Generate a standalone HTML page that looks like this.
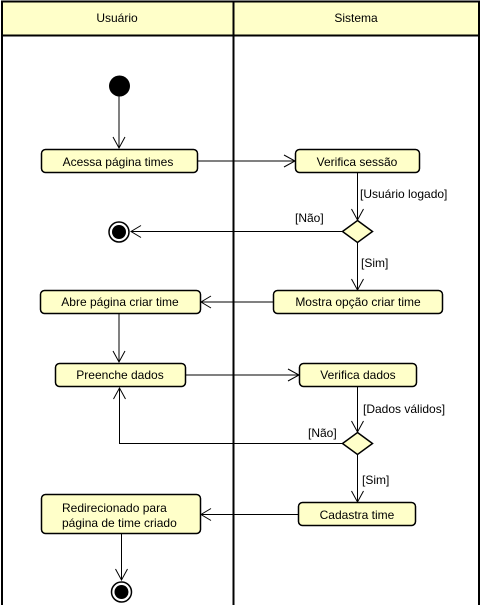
<!DOCTYPE html>
<html><head><meta charset="utf-8"><style>
html,body{margin:0;padding:0;background:#fff;}
svg{display:block;}
text{font-family:"Liberation Sans",sans-serif;font-size:12px;fill:#000;}
</style></head><body>
<svg width="481" height="605" viewBox="0 0 481 605" xmlns="http://www.w3.org/2000/svg">
<rect x="0" y="0" width="481" height="605" fill="#fff"/>
<rect x="2" y="1.5" width="477" height="34" fill="#ffffc9" stroke="#000" stroke-width="2"/>
<line x1="2" y1="35" x2="2" y2="605" stroke="#000" stroke-width="2"/>
<line x1="479" y1="35" x2="479" y2="605" stroke="#000" stroke-width="2"/>
<line x1="233.5" y1="1" x2="233.5" y2="605" stroke="#000" stroke-width="2"/>
<text x="117" y="22" text-anchor="middle">Usuário</text>
<text x="356" y="22" text-anchor="middle">Sistema</text>
<g fill="none" stroke="#000" stroke-width="1">
<line x1="119" y1="96" x2="119" y2="148"/><polyline points="113,137 119,148 125,137"/>
<line x1="198" y1="161" x2="295" y2="161"/><polyline points="284,155 295,161 284,167"/>
<line x1="357.5" y1="173" x2="357.5" y2="220"/><polyline points="351.5,209 357.5,220 363.5,209"/>
<line x1="342" y1="231.5" x2="131" y2="231.5"/><polyline points="141,225.5 131,231.5 141,237.5"/>
<line x1="357.5" y1="243" x2="357.5" y2="290"/><polyline points="351.5,279 357.5,290 363.5,279"/>
<line x1="273" y1="302" x2="201" y2="302"/><polyline points="211,296 201,302 211,308"/>
<line x1="119" y1="314" x2="119" y2="362"/><polyline points="113,351 119,362 125,351"/>
<line x1="186" y1="375" x2="299" y2="375"/><polyline points="288,369 299,375 288,381"/>
<line x1="357.5" y1="387" x2="357.5" y2="432"/><polyline points="351.5,421 357.5,432 363.5,421"/>
<polyline points="342,443.5 119.5,443.5 119.5,388"/><polyline points="113.5,399 119.5,388 125.5,399"/>
<line x1="357.5" y1="454" x2="357.5" y2="502"/><polyline points="351.5,491 357.5,502 363.5,491"/>
<line x1="298" y1="514.5" x2="201" y2="514.5"/><polyline points="211,508.5 201,514.5 211,520.5"/>
<line x1="121.5" y1="534" x2="121.5" y2="580"/><polyline points="115.5,569 121.5,580 127.5,569"/>
</g>
<circle cx="119.5" cy="86" r="10.5" fill="#000"/>
<circle cx="119" cy="232" r="10" fill="#fff" stroke="#000" stroke-width="1.5"/>
<circle cx="119" cy="232" r="7" fill="#000"/>
<circle cx="121.5" cy="592" r="10" fill="#fff" stroke="#000" stroke-width="1.5"/>
<circle cx="121.5" cy="592" r="7" fill="#000"/>
<g fill="#ffffc9" stroke="#000" stroke-width="1.5">
<rect x="41.5" y="149.5" width="156" height="23" rx="4"/>
<rect x="295.5" y="149.5" width="124" height="23" rx="4"/>
<polygon points="357.5,220.5 372.5,231.5 357.5,242.5 342.5,231.5"/>
<rect x="40.5" y="290.5" width="160" height="23" rx="4"/>
<rect x="273.5" y="290.5" width="169" height="23" rx="4"/>
<rect x="55.5" y="363.5" width="130" height="23" rx="4"/>
<rect x="299.5" y="363.5" width="117" height="23" rx="4"/>
<polygon points="357.5,432.5 372.5,443.5 357.5,454.5 342.5,443.5"/>
<rect x="298.5" y="502.5" width="117" height="23" rx="4"/>
<rect x="41.5" y="494.5" width="159" height="39" rx="4"/>
</g>
<text x="118" y="166" text-anchor="middle">Acessa página times</text>
<text x="357" y="166" text-anchor="middle">Verifica sessão</text>
<text x="360" y="198">[Usuário logado]</text>
<text x="295" y="222">[Não]</text>
<text x="361" y="267">[Sim]</text>
<text x="120" y="306" text-anchor="middle">Abre página criar time</text>
<text x="358" y="306" text-anchor="middle">Mostra opção criar time</text>
<text x="120" y="379" text-anchor="middle">Preenche dados</text>
<text x="358" y="379" text-anchor="middle">Verifica dados</text>
<text x="363" y="413">[Dados válidos]</text>
<text x="308" y="437">[Não]</text>
<text x="362" y="484">[Sim]</text>
<text x="357" y="519" text-anchor="middle">Cadastra time</text>
<text x="62" y="512">Redirecionado para</text>
<text x="62" y="527">página de time criado</text>
</svg>
</body></html>
